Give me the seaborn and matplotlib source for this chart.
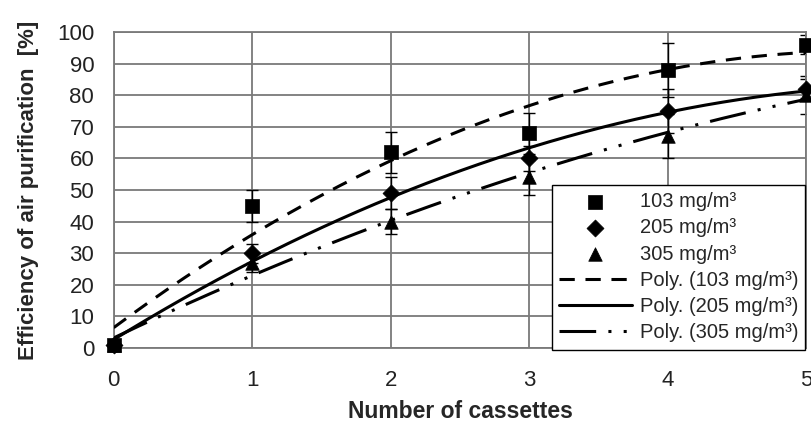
import numpy as np
import pandas as pd
import seaborn as sns
import matplotlib
matplotlib.use("Agg")
import matplotlib.pyplot as plt

# ---- data ----
cassettes = [0, 1, 2, 3, 4, 5]
eff_103 = [1, 45, 62, 68, 88, 96]
eff_205 = [1, 30, 49, 60, 75, 82]
eff_305 = [1, 27, 40, 54, 67, 80]
err_103 = [0, 5, 6.5, 6.5, 8.5, 3]
err_205 = [0, 3, 5, 4, 7, 3]
err_305 = [0, 3, 4, 5.5, 7, 6]
labels = ["103 mg/m³", "205 mg/m³", "305 mg/m³"]
poly_labels = ["Poly. (103 mg/m³)", "Poly. (205 mg/m³)", "Poly. (305 mg/m³)"]
x_ticks = [0, 1, 2, 3, 4, 5]
y_ticks = [0, 10, 20, 30, 40, 50, 60, 70, 80, 90, 100]

sns.set_theme(style="white")
plt.rcParams['font.family'] = ['Liberation Sans', 'DejaVu Sans']

fig = plt.figure(figsize=(8.12, 4.28), dpi=100)
ax = fig.add_axes([0.140, 0.187, 0.853, 0.738])

grid_c = "#7a7a7a"
for v in y_ticks:
    ax.axhline(v, color=grid_c, lw=1.3, zorder=0)
for v in x_ticks:
    ax.axvline(v, color=grid_c, lw=1.3, zorder=0)

series = [eff_103, eff_205, eff_305]
errs = [err_103, err_205, err_305]
markers = ["s", "D", "^"]
sizes = [110, 75, 95]

for y, e in zip(series, errs):
    ax.errorbar(cassettes, y, yerr=e, fmt="none", ecolor="black",
                elinewidth=1.0, capsize=4, capthick=1.0, zorder=2)

for y, m, s, lab in zip(series, markers, sizes, labels):
    df = pd.DataFrame({"x": cassettes, "y": y})
    sns.scatterplot(data=df, x="x", y="y", marker=m, s=s, color="black",
                    edgecolor="black", linewidth=0.5, ax=ax, label=lab,
                    zorder=4, clip_on=False)

xs = np.linspace(0, 5, 200)
styles = [(0, (5, 3.5)), "-", (0, (12, 4, 1, 4, 1, 4))]
for y, ls, lab in zip(series, styles, poly_labels):
    coef = np.polyfit(cassettes, y, 2)
    df = pd.DataFrame({"x": xs, "y": np.polyval(coef, xs)})
    sns.lineplot(data=df, x="x", y="y", color="black", lw=2.2,
                 linestyle=ls, ax=ax, label=lab, zorder=3)

ax.set_xlim(0, 5)
ax.set_ylim(0, 100)
ax.set_xticks(x_ticks)
ax.set_yticks(y_ticks)
ax.tick_params(axis="both", labelsize=16, colors="#222222", length=6,
               width=1.2, direction="out", pad=8)
ax.tick_params(axis="x", pad=10)
for sp in ax.spines.values():
    sp.set_color(grid_c)
    sp.set_linewidth(1.3)

ax.set_xlabel("Number of cassettes", fontsize=16.5, fontweight="bold", labelpad=6)
ax.set_ylabel("Efficiency of air purification  [%]", fontsize=16,
              fontweight="bold", labelpad=13)

leg = ax.legend(loc="lower right", bbox_to_anchor=(0.9985, -0.005),
                fontsize=14.5, frameon=True, fancybox=False, framealpha=1,
                edgecolor="black", borderpad=0.35, labelspacing=0.36,
                handlelength=3.6, handletextpad=0.4, borderaxespad=0)
leg.get_frame().set_linewidth(1.0)
leg.set_zorder(10)

fig.savefig("out.png", dpi=100, facecolor="white")
